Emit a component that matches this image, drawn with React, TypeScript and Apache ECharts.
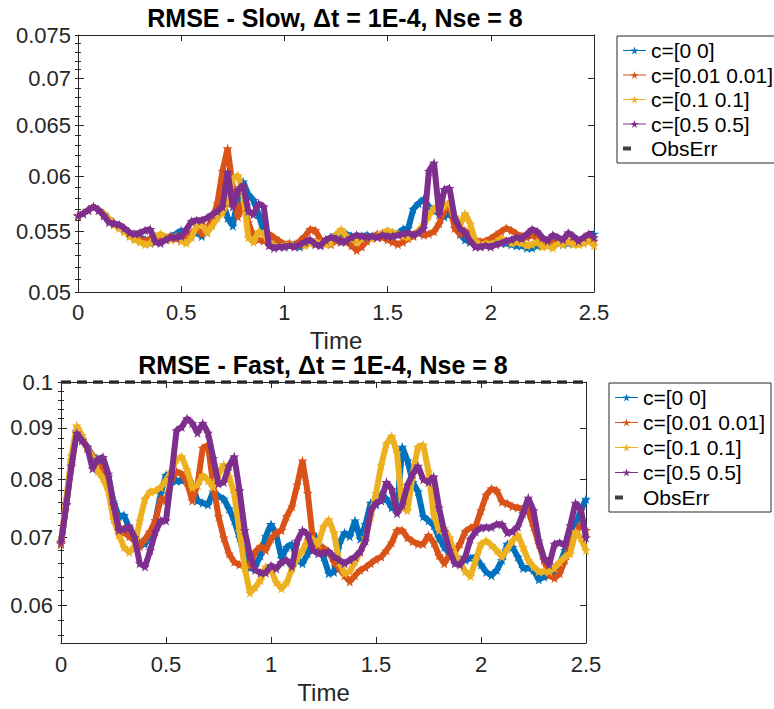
import React, { useEffect, useRef } from 'react';
import * as echarts from 'echarts';

// ---- data ----
const time: number[] = Array.from({ length: 101 }, (_, i) => Math.round(i * 25) / 1000);

const seriesNames = ['c=[0 0]', 'c=[0.01 0.01]', 'c=[0.1 0.1]', 'c=[0.5 0.5]'];
const obsErrName = 'ObsErr';
const obsErr = 0.1;

const slowBlue = [
  0.0564, 0.0566, 0.0569, 0.0572, 0.0569, 0.0565, 0.0561, 0.0557, 0.0555, 0.0551,
  0.0547, 0.0544, 0.0545, 0.0543, 0.054, 0.0545, 0.0545, 0.0544, 0.0546, 0.0548,
  0.0551, 0.0548, 0.0547, 0.0549, 0.0546, 0.055, 0.0557, 0.0568, 0.0578, 0.0562,
  0.0555, 0.058, 0.0595, 0.0583, 0.0578, 0.0565, 0.055, 0.0542, 0.0538, 0.054,
  0.0537, 0.0538, 0.0539, 0.0537, 0.054, 0.0542, 0.054, 0.0539, 0.0541, 0.0545,
  0.0547, 0.0544, 0.0548, 0.0546, 0.0544, 0.0546, 0.0547, 0.0545, 0.0546, 0.0548,
  0.0547, 0.0549, 0.0548, 0.0552, 0.0553, 0.057, 0.0575, 0.0579, 0.0572, 0.0568,
  0.057, 0.0563, 0.0567, 0.0558, 0.0548, 0.0543, 0.0541, 0.054, 0.0539, 0.054,
  0.0541, 0.0543, 0.0541, 0.054, 0.0539, 0.0538, 0.0538, 0.0536, 0.0536, 0.0538,
  0.0539, 0.0538, 0.054, 0.0541, 0.0539, 0.054, 0.0542, 0.0541, 0.0542, 0.0545, 0.0548,
];
const slowOrange = [
  0.0564, 0.0566, 0.0569, 0.0572, 0.0569, 0.0566, 0.0561, 0.0557, 0.0555, 0.0552,
  0.0549, 0.0546, 0.0543, 0.0542, 0.0544, 0.0543, 0.0544, 0.0545, 0.0546, 0.0544,
  0.0542, 0.0545, 0.0549, 0.0552, 0.0548, 0.0553, 0.056, 0.0575, 0.0605, 0.0627,
  0.059, 0.0563, 0.0575, 0.0558, 0.0546, 0.0543, 0.0542, 0.0548, 0.0545, 0.0542,
  0.0539, 0.054, 0.0538, 0.0542, 0.0546, 0.0552, 0.0551, 0.0543, 0.0541, 0.0539,
  0.0542, 0.0543, 0.0541, 0.0538, 0.0534, 0.0537, 0.0542, 0.0545, 0.0548, 0.0545,
  0.0543, 0.0541, 0.0539, 0.0541, 0.0544, 0.0546, 0.0549, 0.0547, 0.0548, 0.055,
  0.0557, 0.0569, 0.0575, 0.0553, 0.0548, 0.0551, 0.0546, 0.0543, 0.0541, 0.0542,
  0.0544, 0.0547, 0.055, 0.0553, 0.0551, 0.0548, 0.0546, 0.0545, 0.0547, 0.0544,
  0.0543, 0.0541, 0.0541, 0.0542, 0.0542, 0.0541, 0.0542, 0.0542, 0.0543, 0.0542, 0.0542,
];
const slowYellow = [
  0.0564, 0.0566, 0.0569, 0.0572, 0.0569, 0.0566, 0.0561, 0.0556, 0.0553, 0.055,
  0.0546, 0.0543, 0.0541, 0.0539, 0.054, 0.0546, 0.0548, 0.0545, 0.0543, 0.0546,
  0.0542, 0.054, 0.0545, 0.0555, 0.0558, 0.0549, 0.0555, 0.0562, 0.0567, 0.0575,
  0.0598, 0.0601, 0.0585, 0.0545, 0.0541, 0.055, 0.0548, 0.0541, 0.0538, 0.0537,
  0.0538, 0.0539, 0.0537, 0.0539, 0.0538, 0.054, 0.0541, 0.054, 0.0539, 0.054,
  0.0547, 0.0552, 0.0546, 0.0544, 0.0541, 0.0544, 0.0545, 0.0544, 0.0546, 0.0549,
  0.0551, 0.0549, 0.0548, 0.0546, 0.0545, 0.0547, 0.0551, 0.0556, 0.0564, 0.0571,
  0.0567, 0.0573, 0.0576, 0.0563, 0.0555, 0.0566, 0.0557, 0.0542, 0.0538, 0.054,
  0.0539, 0.0541, 0.0544, 0.0542, 0.054, 0.0541, 0.054, 0.0538, 0.0539, 0.0541,
  0.0537, 0.0538, 0.0536, 0.054, 0.0539, 0.0541, 0.0539, 0.0539, 0.054, 0.0542, 0.0538,
];
const slowPurple = [
  0.0564, 0.0566, 0.0569, 0.0572, 0.0569, 0.0564, 0.0558, 0.0557, 0.0556, 0.0553,
  0.0549, 0.0548, 0.0549, 0.0551, 0.0552, 0.0541, 0.054, 0.0543, 0.0545, 0.0545,
  0.0546, 0.0552, 0.0559, 0.056, 0.056, 0.0562, 0.0565, 0.0568, 0.0572, 0.0604,
  0.0572, 0.0587, 0.0592, 0.0568, 0.0565, 0.0575, 0.0572, 0.0538, 0.0536, 0.0537,
  0.0537, 0.0538, 0.0537, 0.0539, 0.0541, 0.0543, 0.0539, 0.0538, 0.0543, 0.0545,
  0.0544, 0.0541, 0.0542, 0.0545, 0.0547, 0.0546, 0.0545, 0.0546, 0.0545, 0.0547,
  0.0546, 0.0546, 0.0547, 0.0548, 0.0549, 0.0547, 0.0549, 0.0553, 0.0605, 0.0613,
  0.0565, 0.0588, 0.0589, 0.0562, 0.0553, 0.0549, 0.0542, 0.0537, 0.0537, 0.0538,
  0.0537, 0.0539, 0.054, 0.0542, 0.0543, 0.0545, 0.0544, 0.0548, 0.0552, 0.055,
  0.0545, 0.0542, 0.0547, 0.0545, 0.0543, 0.0549, 0.0546, 0.0542, 0.0545, 0.0548, 0.0545,
];

const fastBlue = [
  0.069, 0.0755, 0.0835, 0.0893, 0.0878, 0.0862, 0.0845, 0.0835, 0.0828, 0.0805,
  0.076, 0.0735, 0.0737, 0.0715, 0.0703, 0.069, 0.069, 0.0708, 0.0728, 0.0775,
  0.0808, 0.0808, 0.0797, 0.0798, 0.0812, 0.079, 0.0762, 0.0758, 0.0755, 0.0778,
  0.077, 0.0765, 0.0748, 0.0728, 0.07, 0.067, 0.0653, 0.0655, 0.0672, 0.0702,
  0.0722, 0.0705, 0.0668, 0.0685, 0.069, 0.0665, 0.066, 0.0675, 0.0706, 0.0695,
  0.067, 0.0645, 0.0647, 0.069, 0.0708, 0.0702, 0.0728, 0.0698, 0.0722, 0.0758,
  0.0755, 0.0775, 0.0765, 0.075, 0.0745, 0.0862, 0.0835, 0.0795, 0.0778, 0.0735,
  0.0728, 0.072, 0.07, 0.0685, 0.0675, 0.0668, 0.0666, 0.0665, 0.0668, 0.067,
  0.0658, 0.0647, 0.0642, 0.065, 0.0665, 0.069, 0.0685, 0.067, 0.0653, 0.0653,
  0.065, 0.0636, 0.064, 0.0643, 0.0648, 0.066, 0.068, 0.0706, 0.0722, 0.0745, 0.0765,
];
const fastOrange = [
  0.069, 0.0755, 0.083, 0.0893, 0.0875, 0.086, 0.0845, 0.0825, 0.0822, 0.079,
  0.0755, 0.0718, 0.0708, 0.0702, 0.0695, 0.0686, 0.0698, 0.071, 0.0728, 0.0765,
  0.0762, 0.0797, 0.0815, 0.081, 0.0795, 0.0762, 0.079, 0.086, 0.0865, 0.079,
  0.0735, 0.07, 0.0675, 0.0662, 0.0658, 0.0655, 0.0657, 0.0678, 0.0686, 0.068,
  0.0698, 0.0708, 0.0712, 0.0735, 0.0752, 0.079, 0.0835, 0.0775, 0.0695, 0.0686,
  0.0684, 0.0678, 0.0662, 0.0652, 0.0642, 0.0633, 0.0642, 0.065, 0.0654, 0.066,
  0.0666, 0.067, 0.068, 0.0692, 0.0712, 0.0712, 0.07, 0.0694, 0.069, 0.069,
  0.0704, 0.0692, 0.0672, 0.066, 0.0673, 0.0678, 0.069, 0.071, 0.0716, 0.072,
  0.0745, 0.0772, 0.0783, 0.078, 0.076, 0.0757, 0.0752, 0.075, 0.0748, 0.0745,
  0.0718, 0.069, 0.0665, 0.0642, 0.0638, 0.0645, 0.0665, 0.069, 0.0706, 0.0722, 0.0712,
];
const fastYellow = [
  0.0695, 0.0765, 0.0845, 0.0905, 0.0885, 0.0858, 0.0842, 0.0815, 0.0802, 0.078,
  0.073, 0.0705, 0.0685, 0.0677, 0.0685, 0.0728, 0.0765, 0.0778, 0.0779, 0.0786,
  0.0798, 0.0815, 0.0838, 0.0843, 0.0818, 0.0785, 0.079, 0.0808, 0.0798, 0.0786,
  0.081, 0.0828, 0.0805, 0.0775, 0.071, 0.0653, 0.0617, 0.0625, 0.0635, 0.0655,
  0.065, 0.0632, 0.0623, 0.0632, 0.0652, 0.0668, 0.068, 0.0697, 0.0697, 0.069,
  0.0718, 0.073, 0.0708, 0.0662, 0.0645, 0.0648, 0.0662, 0.0678, 0.07, 0.0735,
  0.0775, 0.0827, 0.0868, 0.0884, 0.085, 0.075, 0.0745, 0.081, 0.0862, 0.0866,
  0.0815, 0.0738, 0.0712, 0.0715, 0.07, 0.0675, 0.0662, 0.0648, 0.0641, 0.0665,
  0.069, 0.0695, 0.0688, 0.068, 0.067, 0.0682, 0.0695, 0.0705, 0.0685, 0.0665,
  0.0655, 0.0648, 0.0648, 0.0648, 0.0653, 0.0662, 0.067, 0.0675, 0.071, 0.07, 0.068,
];
const fastPurple = [
  0.0693, 0.0755, 0.0825, 0.089, 0.0875, 0.0862, 0.082, 0.0838, 0.0842, 0.081,
  0.0755, 0.0712, 0.0714, 0.0719, 0.0701, 0.066, 0.0655, 0.068, 0.071, 0.0728,
  0.0728, 0.0803, 0.0895, 0.0902, 0.092, 0.091, 0.089, 0.091, 0.089, 0.084,
  0.0792, 0.0795, 0.0825, 0.0843, 0.078, 0.0712, 0.0672, 0.065, 0.0646, 0.0646,
  0.0657, 0.0652, 0.0662, 0.0665, 0.0655, 0.0695, 0.0712, 0.0705, 0.068, 0.0675,
  0.0676, 0.0678, 0.067, 0.0665, 0.066, 0.0665, 0.067, 0.0678, 0.0695, 0.0745,
  0.0758, 0.0762, 0.0795, 0.0782, 0.074, 0.0755, 0.079, 0.081, 0.0825, 0.08,
  0.0795, 0.0805, 0.075, 0.071, 0.068, 0.066, 0.0658, 0.067, 0.0698, 0.071,
  0.0716, 0.0717, 0.0717, 0.0722, 0.0722, 0.0708, 0.071, 0.0718, 0.074, 0.0767,
  0.0745, 0.0695, 0.0668, 0.0658, 0.069, 0.0692, 0.0688, 0.072, 0.0758, 0.0748, 0.07,
];

const xTicks = [0, 0.5, 1, 1.5, 2, 2.5];
const slowRange = [0.05, 0.075];
const slowMajorTicks = [0.05, 0.055, 0.06, 0.065, 0.07, 0.075];
const slowMinorTicks = [
  0.05, 0.051, 0.052, 0.053, 0.054, 0.055, 0.056, 0.057, 0.058, 0.059, 0.06, 0.061, 0.062,
  0.063, 0.064, 0.065, 0.066, 0.067, 0.068, 0.069, 0.07, 0.071, 0.072, 0.073, 0.074, 0.075,
];
const fastRange = [0.055, 0.1];
const fastMajorTicks = [0.06, 0.07, 0.08, 0.09, 0.1];
const fastMinorTicks = [
  0.056, 0.058, 0.06, 0.062, 0.064, 0.066, 0.068, 0.07, 0.072, 0.074, 0.076, 0.078,
  0.08, 0.082, 0.084, 0.086, 0.088, 0.09, 0.092, 0.094, 0.096, 0.098, 0.1,
];

const titleSlow = 'RMSE - Slow, Δt = 1E-4, Nse = 8';
const titleFast = 'RMSE - Fast, Δt = 1E-4, Nse = 8';
const xLabel = 'Time';

// ---- styles ----
const colors = ['#0072BD', '#D95319', '#EDB120', '#7E2F8E'];
const axisColor = '#262626';
const FONT = '"Liberation Sans", Arial, Helvetica, sans-serif';
const starPath =
  'path://M50,2 L61.8,37.6 L99,37.6 L68.9,59.5 L80.3,95 L50,73 L19.7,95 L31.1,59.5 L1,37.6 L38.2,37.6 Z';

const lg = (v: number) => Math.log10(v);
const fmtLog = (v: number) => String(parseFloat(Math.pow(10, v).toPrecision(3)));

function makeYAxes(gridIndex: number, range: number[], majors: number[], minors: number[], labelMargin: number) {
  const base = {
    type: 'value',
    gridIndex,
    min: lg(range[0]),
    max: lg(range[1]),
    splitLine: { show: false },
    axisLine: { show: true, onZero: false, lineStyle: { color: axisColor, width: 1 } },
  };
  const majorTick = { show: true, inside: true, length: 6, customValues: majors.map(lg), lineStyle: { color: axisColor } };
  const minorTick = { show: true, inside: true, length: 3, customValues: minors.map(lg), lineStyle: { color: axisColor } };
  return [
    {
      ...base,
      position: 'left',
      axisTick: majorTick,
      axisLabel: {
        customValues: majors.map(lg),
        formatter: fmtLog,
        fontSize: 22,
        fontFamily: FONT,
        color: axisColor,
        margin: labelMargin,
      },
    },
    { ...base, position: 'left', axisLine: { show: false }, axisTick: minorTick, axisLabel: { show: false } },
    { ...base, position: 'right', axisTick: majorTick, axisLabel: { show: false } },
    { ...base, position: 'right', axisLine: { show: false }, axisTick: minorTick, axisLabel: { show: false } },
  ];
}

function makeXAxes(gridIndex: number, labelMargin: number, nameGap: number) {
  const base = {
    type: 'value',
    gridIndex,
    min: xTicks[0],
    max: xTicks[xTicks.length - 1],
    interval: 0.5,
    splitLine: { show: false },
    axisLine: { show: true, onZero: false, lineStyle: { color: axisColor, width: 1 } },
    axisTick: { show: true, inside: true, length: 6, lineStyle: { color: axisColor } },
  };
  return [
    {
      ...base,
      position: 'bottom',
      name: xLabel,
      nameLocation: 'middle',
      nameGap,
      nameTextStyle: { fontSize: 24, fontFamily: FONT, color: axisColor },
      axisLabel: { fontSize: 22, fontFamily: FONT, color: axisColor, margin: labelMargin },
    },
    { ...base, position: 'top', axisLabel: { show: false } },
  ];
}

function makeSeries(gridIndex: number, arrays: number[][]) {
  const out: any[] = arrays.map((arr, k) => ({
    type: 'line',
    name: seriesNames[k],
    xAxisIndex: gridIndex * 2,
    yAxisIndex: gridIndex * 4,
    data: time.map((t, i) => [t, lg(arr[i])]),
    symbol: starPath,
    symbolSize: 10,
    showAllSymbol: true,
    lineStyle: { width: 6, color: colors[k] },
    itemStyle: { color: colors[k] },
    z: 2 + k,
    silent: true,
    clip: true,
  }));
  out.push({
    type: 'line',
    name: obsErrName,
    xAxisIndex: gridIndex * 2,
    yAxisIndex: gridIndex * 4,
    data: [
      [time[0], lg(obsErr)],
      [time[time.length - 1], lg(obsErr)],
    ],
    symbol: 'none',
    lineStyle: { width: 3.5, color: axisColor, type: [10, 6] },
    itemStyle: { color: axisColor },
    z: 10,
    silent: true,
    clip: true,
  });
  return out;
}

function makeLegend(left: number, top: number, gap: number) {
  return {
    orient: 'vertical',
    left,
    top,
    itemWidth: 23,
    itemHeight: 10,
    itemGap: gap,
    padding: [4, 6, 4, 4],
    borderColor: axisColor,
    borderWidth: 1,
    backgroundColor: '#ffffff',
    selectedMode: false,
    textStyle: { fontSize: 21, fontFamily: FONT, color: '#000000' },
    data: [
      ...seriesNames.map((n, k) => ({
        name: n,
        itemStyle: { color: colors[k] },
        lineStyle: { width: 1, color: colors[k], type: 'solid' },
      })),
      {
        name: obsErrName,
        itemStyle: { opacity: 0 },
        lineStyle: { width: 4, color: '#404040', type: [8, 60], opacity: 1 },
      },
    ],
  };
}

export default function App() {
  const ref = useRef<HTMLDivElement>(null);
  useEffect(() => {
    if (!ref.current) return;
    const chart = echarts.init(ref.current, null, { renderer: 'svg' });
    const option: any = {
      animation: false,
      backgroundColor: '#ffffff',
      grid: [
        { left: 78, top: 35, width: 516, height: 257 },
        { left: 61, top: 382, width: 525, height: 261 },
      ],
      xAxis: [...makeXAxes(0, 9, 36), ...makeXAxes(1, 10, 37)],
      yAxis: [
        ...makeYAxes(0, slowRange, slowMajorTicks, slowMinorTicks, 7),
        ...makeYAxes(1, fastRange, fastMajorTicks, fastMinorTicks, 8),
      ],
      legend: [makeLegend(617, 36, 3.5), makeLegend(609, 383, 4)],
      series: [
        ...makeSeries(0, [slowBlue, slowOrange, slowYellow, slowPurple]),
        ...makeSeries(1, [fastBlue, fastOrange, fastYellow, fastPurple]),
      ],
      graphic: [
        {
          type: 'text',
          x: 335,
          y: 18,
          style: {
            text: titleSlow,
            fontSize: 25,
            fontWeight: 'bold',
            fontFamily: FONT,
            fill: '#000000',
            align: 'center',
            verticalAlign: 'middle',
          },
        },
        {
          type: 'text',
          x: 323,
          y: 365,
          style: {
            text: titleFast,
            fontSize: 25,
            fontWeight: 'bold',
            fontFamily: FONT,
            fill: '#000000',
            align: 'center',
            verticalAlign: 'middle',
          },
        },
      ],
    };
    chart.setOption(option);
    return () => chart.dispose();
  }, []);
  return (
    <div
      ref={ref}
      style={{ position: 'absolute', left: 0, top: 0, width: 774, height: 709, background: '#fff' }}
    />
  );
}
